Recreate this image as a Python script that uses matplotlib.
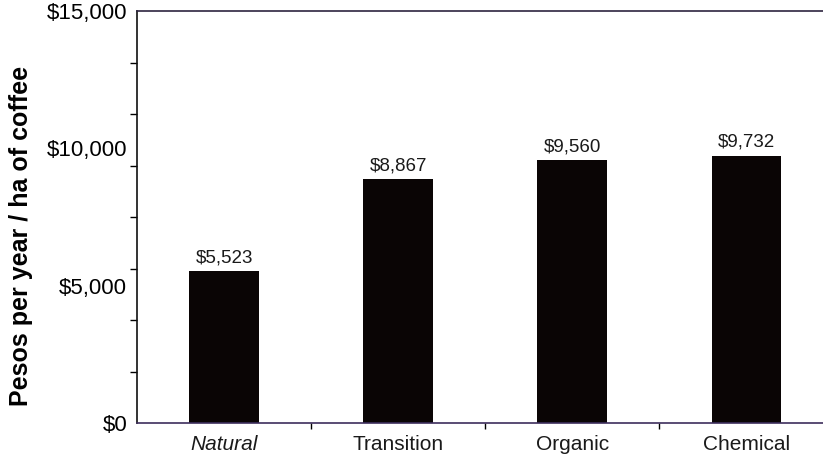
import numpy as np
import matplotlib.pyplot as plt

categories = ['Natural', 'Transition', 'Organic', 'Chemical']
values = [5523, 8867, 9560, 9732]
ytick_values = [0, 5000, 10000, 15000]
ytick_labels = ['$0', '$5,000', '$10,000', '$15,000']

plt.rcParams['font.family'] = ['Liberation Sans', 'DejaVu Sans']

fig = plt.figure(figsize=(8.23, 4.59), dpi=100)
ax = fig.add_axes([137 / 823, 36 / 459, 686 / 823, 412 / 459])

x = np.arange(len(categories))
bars = ax.bar(x, values, width=0.4, color='#0a0505')

for bar, v in zip(bars, values):
    ax.text(bar.get_x() + bar.get_width() / 2, v + 180, f'${v:,}',
            ha='center', va='bottom', fontsize=13.5, color='#1a1a1a')

ax.set_xlim(-0.5, 3.44)
ax.set_ylim(0, 15000)

# labels at 5000 steps, tick marks every 1875 (as in the scanned original)
ax.set_yticks(ytick_values)
ax.set_yticklabels(ytick_labels, fontsize=16)
ax.tick_params(axis='y', which='major', length=0, pad=7)
ax.set_yticks(np.arange(0, 15001, 1875), minor=True)
ax.tick_params(axis='y', which='minor', length=5, width=1, direction='out')

ax.set_xticks(x)
ax.set_xticklabels(categories, fontsize=15, color='#1a1a1a')
ax.get_xticklabels()[0].set_style('italic')
ax.tick_params(axis='x', which='major', length=0, pad=9)
ax.set_xticks(x[:-1] + 0.5, minor=True)
ax.tick_params(axis='x', which='minor', length=4, width=1, direction='out')

ax.set_ylabel('Pesos per year / ha of coffee', fontsize=18, fontweight='bold')
ax.yaxis.set_label_coords(-0.152, 0.454)

ax.spines['right'].set_visible(False)
ax.spines['top'].set_color('#2e2440')
ax.spines['bottom'].set_color('#3d2e5c')
ax.spines['left'].set_color('#111111')
for s in ax.spines.values():
    s.set_linewidth(1.2)

fig.savefig('out.png', dpi=100)
